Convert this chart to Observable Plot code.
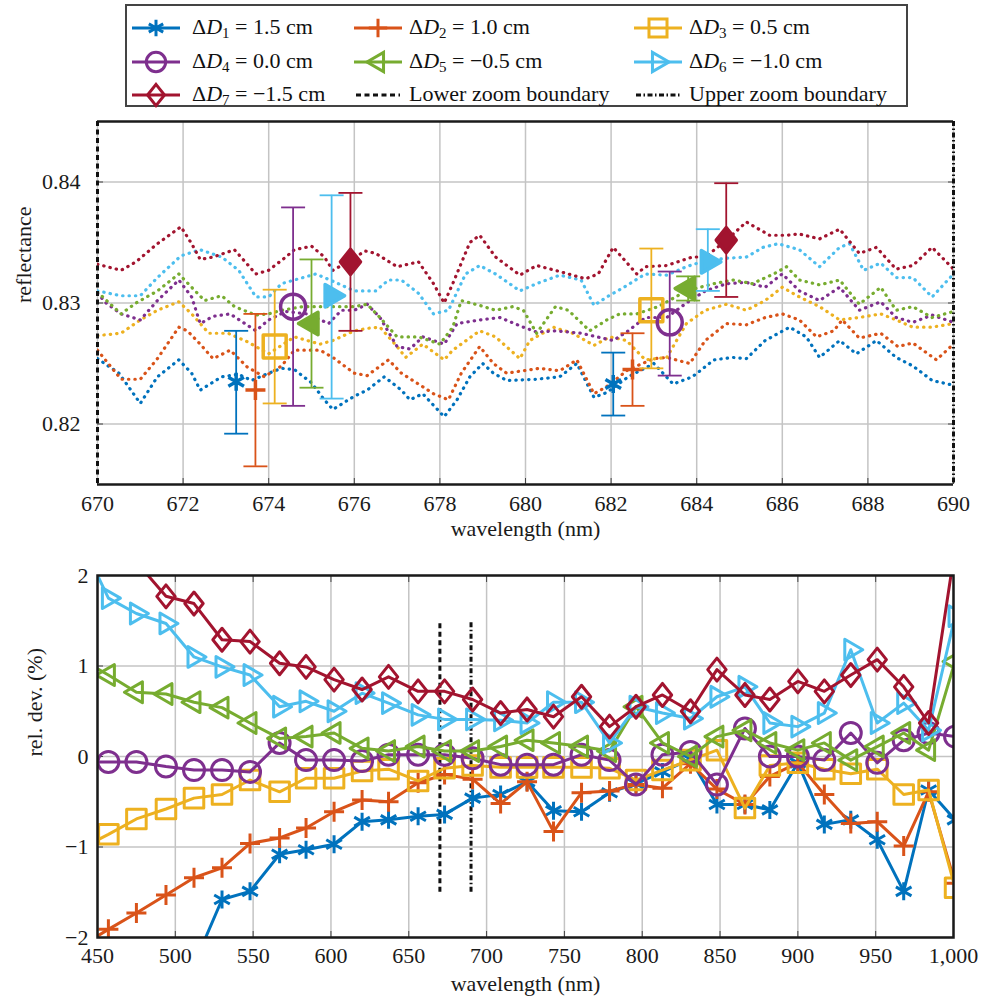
<!DOCTYPE html>
<html>
<head>
<meta charset="utf-8">
<script src="https://cdn.jsdelivr.net/npm/d3@7"></script>
<script src="https://cdn.jsdelivr.net/npm/@observablehq/plot@0.6"></script>
<style>
  body { margin: 0; background: #fff; font-family: "Liberation Serif", "Tinos", "DejaVu Serif", serif; }
  #page { position: relative; width: 984px; height: 1005px; overflow: hidden; }
  #legend { position: absolute; left: 125px; top: 4px; width: 779px; height: 99px; border: 2px solid #444; box-sizing: content-box; }
  .swatch { position: absolute; }
  .entry { position: absolute; font-size: 22px; line-height: 26px; color: #111; white-space: nowrap; }
  .entry sub { font-size: 15px; vertical-align: -4px; line-height: 0; }
  .chart { position: absolute; left: 0; }
</style>
</head>
<body>
<div id="page">
  <div id="legend"></div>
  <div id="top" class="chart" style="top:110px"></div>
  <div id="bottom" class="chart" style="top:560px"></div>
</div>
<script>
// ---- series metadata -------------------------------------------------------
const seriesColors = ["#0072BD", "#D95319", "#EDB120", "#7E2F8E", "#77AC30", "#4DBEEE", "#A2142F"];
const deltaLabels = ["1.5", "1.0", "0.5", "0.0", "\u22120.5", "\u22121.0", "\u22121.5"];
const boundaryLabels = ["Lower zoom boundary", "Upper zoom boundary"];
const zoomBounds = [670, 690];      // zoom window (nm)
const zoomRuleSpan = [-1.5, 1.5];    // extent of the zoom markers in the deviation plot

// ---- zoomed reflectance spectra: [wavelength (nm), reflectance] -------------
const reflD1 = [[670,0.8254],[670.5,0.8242],[671,0.8217],[671.4,0.8239],[671.9,0.8253],[672.2,0.8242],[672.4,0.8228],[672.9,0.8239],[673.3,0.8241],[673.6,0.8236],[674,0.8242],[674.3,0.8246],[674.6,0.8245],[675,0.8234],[675.3,0.822],[675.5,0.8212],[676,0.8223],[676.3,0.8228],[676.7,0.8239],[677.1,0.8228],[677.3,0.822],[677.6,0.8225],[678.1,0.8206],[678.4,0.822],[678.7,0.8239],[679,0.825],[679.25,0.8242],[679.56,0.8236],[680.26,0.8237],[680.8,0.8239],[681.2,0.825],[681.6,0.8222],[681.9,0.8226],[682.4,0.8239],[683,0.825],[683.45,0.8233],[683.9,0.8239],[684.4,0.8253],[684.85,0.8255],[685.16,0.8254],[685.6,0.8269],[686.17,0.828],[686.56,0.8272],[686.87,0.8255],[687.34,0.8269],[687.73,0.8258],[688.2,0.8269],[688.66,0.8255],[689.05,0.8248],[689.5,0.8236],[690,0.8232]];
const reflD2 = [[670,0.8261],[670.55,0.8237],[671,0.8237],[671.4,0.8254],[671.9,0.828],[672.1,0.8277],[672.4,0.8266],[672.7,0.8254],[673.1,0.8261],[673.5,0.8247],[673.9,0.8239],[674.3,0.8248],[674.6,0.8261],[675.2,0.8261],[675.5,0.8255],[676,0.8242],[676.3,0.824],[676.8,0.8253],[677.1,0.8242],[677.5,0.8233],[677.85,0.8225],[678.2,0.822],[678.5,0.8242],[678.93,0.8264],[679.25,0.825],[679.56,0.8242],[680.33,0.8246],[680.8,0.8244],[681.2,0.8253],[681.6,0.8225],[681.9,0.8231],[682.4,0.8245],[683,0.8254],[683.3,0.8255],[683.84,0.825],[684.2,0.8269],[684.7,0.8283],[685.16,0.8282],[685.6,0.8288],[686,0.8291],[686.4,0.8286],[686.8,0.8272],[687.2,0.8277],[687.4,0.8286],[687.8,0.8271],[688.3,0.8275],[688.7,0.8264],[689.05,0.8267],[689.6,0.8253],[690,0.8266]];
const reflD3 = [[670,0.8273],[670.55,0.8275],[671,0.8286],[671.4,0.8294],[671.9,0.8301],[672.2,0.8291],[672.6,0.8275],[673.05,0.8275],[673.5,0.8268],[674,0.8258],[674.6,0.8272],[675.2,0.8266],[675.5,0.8269],[676,0.8277],[676.3,0.8279],[676.6,0.828],[677,0.8264],[677.2,0.8255],[677.6,0.8266],[678.1,0.8253],[678.3,0.8261],[678.93,0.8277],[679.3,0.8272],[679.87,0.8254],[680.1,0.8269],[680.65,0.828],[681.1,0.8275],[681.6,0.8265],[681.97,0.8272],[682.36,0.8269],[682.8,0.8253],[683.3,0.8255],[683.76,0.8283],[684.2,0.8294],[684.7,0.8299],[685.16,0.8294],[685.6,0.8302],[686,0.8313],[686.4,0.8305],[686.87,0.8297],[687.34,0.8286],[687.8,0.8288],[688.3,0.8291],[688.66,0.8286],[689.05,0.828],[689.5,0.828],[690,0.8283]];
const reflD4 = [[670,0.8308],[670.2,0.83],[670.55,0.8291],[671,0.8286],[671.4,0.8302],[671.9,0.8319],[672.2,0.8305],[672.4,0.8283],[672.7,0.8289],[673.1,0.8291],[673.7,0.8277],[674,0.8286],[674.4,0.8293],[674.9,0.8291],[675.4,0.8283],[675.7,0.8294],[676,0.8294],[676.3,0.8299],[676.6,0.8288],[677,0.8264],[677.3,0.8262],[677.6,0.8272],[678.1,0.8266],[678.4,0.8283],[678.93,0.8286],[679.4,0.8288],[679.95,0.828],[680.26,0.8276],[680.7,0.8277],[681.3,0.8275],[682.05,0.8269],[682.4,0.8277],[682.8,0.8288],[683.3,0.8288],[683.76,0.83],[684.2,0.831],[684.7,0.8316],[685.16,0.8317],[685.6,0.8313],[686,0.8324],[686.4,0.831],[686.87,0.8302],[687.34,0.8313],[687.8,0.8294],[688.3,0.8301],[688.66,0.8288],[689.05,0.8284],[689.5,0.829],[690,0.8284]];
const reflD5 = [[670,0.8309],[670.55,0.8291],[670.9,0.83],[671.4,0.831],[671.9,0.8324],[672.2,0.8313],[672.5,0.8302],[672.9,0.8306],[673.2,0.8297],[673.7,0.829],[674,0.8291],[674.3,0.8294],[674.8,0.8297],[675.5,0.8297],[676,0.8297],[676.3,0.8299],[676.6,0.8288],[677,0.8272],[677.5,0.8272],[678,0.8266],[678.3,0.828],[678.5,0.8302],[678.93,0.8298],[679.3,0.8294],[679.7,0.8297],[679.95,0.8294],[680.26,0.8275],[680.7,0.8297],[681,0.8294],[681.5,0.8277],[681.9,0.8286],[682.2,0.8291],[682.6,0.8291],[683.1,0.8297],[683.76,0.831],[684.4,0.8316],[684.85,0.8319],[685.3,0.8316],[685.8,0.8324],[686.1,0.833],[686.4,0.8319],[686.87,0.8315],[687.34,0.8319],[687.8,0.8299],[688.3,0.8313],[688.66,0.8294],[689.05,0.8297],[689.5,0.8288],[690,0.8293]];
const reflD6 = [[670,0.831],[670.55,0.8306],[671,0.8306],[671.4,0.8321],[671.95,0.8339],[672.4,0.8344],[672.9,0.8338],[673.3,0.8327],[673.7,0.8305],[674,0.8305],[674.3,0.8316],[674.8,0.8321],[675.1,0.8324],[675.5,0.8318],[676,0.831],[676.5,0.831],[676.8,0.8319],[677.1,0.8319],[677.5,0.8308],[677.85,0.8291],[678.2,0.8294],[678.6,0.8324],[678.93,0.8331],[679.3,0.8324],[679.87,0.831],[680.26,0.8316],[680.8,0.8323],[681.3,0.8319],[681.6,0.8298],[681.9,0.8305],[682.3,0.8313],[682.8,0.8324],[683.3,0.8323],[683.76,0.833],[684.2,0.8335],[684.7,0.8337],[685.16,0.8338],[685.55,0.8346],[685.9,0.8349],[686.4,0.8344],[686.87,0.833],[687.34,0.8346],[687.57,0.8349],[687.9,0.8327],[688.3,0.8333],[688.66,0.8321],[689.05,0.8321],[689.5,0.8305],[690,0.8324]];
const reflD7 = [[670,0.8332],[670.55,0.8327],[670.9,0.8334],[671.4,0.8349],[671.95,0.8363],[672.2,0.8349],[672.4,0.8336],[672.7,0.8338],[673.2,0.8344],[673.5,0.8332],[673.7,0.8324],[674,0.8327],[674.4,0.8338],[674.6,0.8344],[675,0.8347],[675.3,0.8338],[675.5,0.8327],[675.9,0.8335],[676.25,0.8343],[676.5,0.8341],[677,0.833],[677.5,0.8334],[677.85,0.8316],[678.1,0.83],[678.3,0.8316],[678.7,0.835],[678.93,0.8356],[679.3,0.8338],[679.87,0.8323],[680.26,0.8331],[680.8,0.8326],[681.4,0.832],[681.7,0.8324],[682.05,0.8346],[682.6,0.8324],[682.8,0.833],[683.3,0.8331],[683.9,0.8338],[684.2,0.8338],[684.7,0.8352],[685.16,0.8367],[685.7,0.8356],[686.1,0.8356],[686.4,0.8357],[686.87,0.8353],[687.34,0.8361],[687.8,0.8341],[688.2,0.8346],[688.66,0.8328],[689.05,0.8331],[689.5,0.8346],[690,0.8328]];
const reflSeries = [reflD1, reflD2, reflD3, reflD4, reflD5, reflD6, reflD7];

// ---- mean reflectance with spread at two wavelengths per offset -----------
const zoomWl   = [[673.24, 682.05], [673.69, 682.5], [674.14, 682.94], [674.57, 683.37], [675.0, 683.8], [675.47, 684.26], [675.91, 684.69]];
const zoomMean = [[0.8235, 0.8233], [0.8228, 0.8245], [0.8264, 0.8294], [0.8297, 0.8284], [0.8283, 0.8312], [0.8306, 0.8334], [0.8334, 0.8352]];
const zoomLow  = [[0.8192, 0.8207], [0.8165, 0.8215], [0.8217, 0.8246], [0.8215, 0.8240], [0.8230, 0.8302], [0.8221, 0.8310], [0.8277, 0.8305]];
const zoomHigh = [[0.8277, 0.8259], [0.8291, 0.8275], [0.8311, 0.8345], [0.8379, 0.8326], [0.8336, 0.8322], [0.8389, 0.8361], [0.8391, 0.8399]];

// ---- relative deviation over the full range (%) ---------------------------
const devWl = [439, 457, 475, 494, 512, 530, 548, 567, 584, 602, 620, 637, 656, 673, 691, 709, 726, 743, 761, 779, 796, 813, 831, 848, 866, 882, 900, 917, 934, 951, 968, 984, 1001];
const devD1 = [null, null, null, null, -2.3, -1.58, -1.49, -1.08, -1.03, -0.97, -0.72, -0.7, -0.66, -0.64, -0.46, -0.42, -0.28, -0.6, -0.61, -0.4, -0.3, -0.17, -0.03, -0.53, -0.53, -0.59, -0.07, -0.75, -0.7, -0.92, -1.49, -0.37, -0.7];
const devD2 = [-2.1, -1.91, -1.73, -1.53, -1.34, -1.23, -0.96, -0.9, -0.79, -0.61, -0.48, -0.5, -0.29, -0.2, -0.25, -0.52, -0.28, -0.83, -0.4, -0.38, -0.31, -0.35, -0.08, -0.36, -0.53, -0.22, -0.07, -0.42, -0.74, -0.72, -0.99, -0.39, -1.4];
const devD3 = [-1.02, -0.86, -0.69, -0.58, -0.46, -0.42, -0.26, -0.39, -0.24, -0.24, -0.16, -0.14, -0.27, -0.13, -0.1, -0.12, -0.12, -0.12, -0.12, -0.13, -0.26, -0.15, -0.04, 0.07, -0.57, -0.1, -0.07, -0.14, -0.19, -0.14, -0.42, -0.37, -1.45];
const devD4 = [-0.06, -0.06, -0.06, -0.11, -0.15, -0.15, -0.17, 0.15, -0.04, -0.04, -0.05, 0.02, 0.02, 0.02, -0.02, -0.09, -0.09, -0.09, 0.02, -0.04, -0.31, 0.02, 0.05, -0.31, 0.31, 0.0, 0.0, -0.04, 0.26, -0.07, 0.18, 0.26, 0.22];
const devD5 = [1.08, 0.9, 0.71, 0.69, 0.6, 0.54, 0.37, 0.2, 0.22, 0.26, 0.09, 0.06, 0.11, 0.06, 0.06, 0.11, 0.18, 0.15, 0.11, 0.06, 0.55, 0.15, 0.0, 0.22, 0.29, 0.15, 0.07, 0.15, -0.04, 0.11, 0.26, 0.07, 1.05];
const devD6 = [2.4, 1.75, 1.58, 1.47, 1.1, 0.99, 0.9, 0.55, 0.61, 0.5, 0.7, 0.59, 0.46, 0.41, 0.41, 0.4, 0.37, 0.6, 0.6, 0.15, 0.55, 0.48, 0.42, 0.66, 0.77, 0.37, 0.33, 0.48, 1.18, 0.37, 0.59, 0.29, 1.55];
const devD7 = [null, null, 2.15, 1.77, 1.69, 1.29, 1.27, 1.03, 0.99, 0.85, 0.74, 0.88, 0.72, 0.72, 0.63, 0.48, 0.52, 0.44, 0.66, 0.33, 0.55, 0.68, 0.5, 0.96, 0.68, 0.63, 0.83, 0.72, 0.9, 1.07, 0.77, 0.37, 2.3];
const devSeries = [devD1, devD2, devD3, devD4, devD5, devD6, devD7];

// ---- axes ------------------------------------------------------------------
const topXDomain = [670, 690];
const topYDomain = [0.815, 0.845];
const topXTicks = [670, 672, 674, 676, 678, 680, 682, 684, 686, 688, 690];
const topYTicks = [0.82, 0.83, 0.84];
const botXDomain = [450, 1000];
const botYDomain = [-2, 2];
const botXTicks = [450, 500, 550, 600, 650, 700, 750, 800, 850, 900, 950, 1000];
const botYTicks = [-2, -1, 0, 1, 2];

// ---- marker shapes (radius derived from the symbol area) ------------------
function makeSymbol(drawFn) {
  return { draw(ctx, size) { drawFn(ctx, Math.sqrt(size / Math.PI)); } };
}
const shapes = {
  asterisk: makeSymbol((c, r) => { const t = r / 2, u = t * Math.sqrt(3);
    c.moveTo(0, -r); c.lineTo(0, r); c.moveTo(-u, -t); c.lineTo(u, t); c.moveTo(-u, t); c.lineTo(u, -t); }),
  plus: makeSymbol((c, r) => { c.moveTo(-r, 0); c.lineTo(r, 0); c.moveTo(0, -r); c.lineTo(0, r); }),
  square: makeSymbol((c, r) => { const h = r * 0.85;
    c.moveTo(-h, -h); c.lineTo(h, -h); c.lineTo(h, h); c.lineTo(-h, h); c.closePath(); }),
  circle: makeSymbol((c, r) => { c.moveTo(r, 0); c.arc(0, 0, r, 0, 2 * Math.PI); }),
  triLeft: makeSymbol((c, r) => { c.moveTo(-r, 0); c.lineTo(r / 2, -r * 0.866); c.lineTo(r / 2, r * 0.866); c.closePath(); }),
  triRight: makeSymbol((c, r) => { c.moveTo(r, 0); c.lineTo(-r / 2, -r * 0.866); c.lineTo(-r / 2, r * 0.866); c.closePath(); }),
  diamond: makeSymbol((c, r) => { c.moveTo(0, -r); c.lineTo(r * 0.8, 0); c.lineTo(0, r); c.lineTo(-r * 0.8, 0); c.closePath(); }),
  cap: makeSymbol((c, r) => { c.moveTo(-r, 0); c.lineTo(r, 0); })
};
const seriesShapes = [shapes.asterisk, shapes.plus, shapes.square, shapes.circle, shapes.triLeft, shapes.triRight, shapes.diamond];
const solidShape = [false, false, false, false, true, true, true];
const topMarkerR = [9, 10, 13.5, 12.5, 13, 13, 12.5];
const botMarkerR = [9, 10, 11.5, 10.5, 12, 12, 11.5];

const dashLower = "5,3.5";
const dashUpper = "5,2.5,1.5,2.5";
const gridStyle = { stroke: "#c4c4c4", strokeOpacity: 1, strokeWidth: 1.5 };
const serifFamily = '"Liberation Serif", "Tinos", "DejaVu Serif", serif';
const fontStyle = { fontFamily: serifFamily, fontSize: "22px", color: "#1a1a1a", background: "transparent", overflow: "visible" };

// ---- legend ----------------------------------------------------------------
const legend = d3.select("#legend");
const legendRowY = [22, 56, 89];
const swatchLeft = [3, 225, 505];
const textLeft = [65, 282, 562];
for (let i = 0; i < 9; i++) {
  const row = Math.floor(i / 3), col = i % 3;
  const svg = legend.append("svg").attr("class", "swatch")
    .attr("width", 52).attr("height", 30)
    .style("left", swatchLeft[col] + "px").style("top", (legendRowY[row] - 15) + "px");
  if (i < 7) {
    svg.append("line").attr("x1", 2).attr("x2", 50).attr("y1", 15).attr("y2", 15)
      .attr("stroke", seriesColors[i]).attr("stroke-width", 3);
    svg.append("path").attr("transform", "translate(26,15)")
      .attr("d", d3.symbol(seriesShapes[i], Math.PI * botMarkerR[i] * botMarkerR[i] * 0.85)())
      .attr("fill", "none").attr("stroke", seriesColors[i]).attr("stroke-width", 3);
  } else {
    svg.append("line").attr("x1", 4).attr("x2", 48).attr("y1", 15).attr("y2", 15)
      .attr("stroke", "#111").attr("stroke-width", 3)
      .attr("stroke-dasharray", i === 7 ? dashLower : dashUpper);
  }
  const label = i < 7
    ? `\u0394<i>D</i><sub>${i + 1}</sub> = ${deltaLabels[i]} cm`
    : boundaryLabels[i - 7];
  legend.append("div").attr("class", "entry")
    .style("left", textLeft[col] + "px").style("top", (legendRowY[row] - 14) + "px")
    .html(label);
}

// ---- zoomed reflectance plot ----------------------------------------------
const topMarks = [
  Plot.gridX(topXTicks, gridStyle),
  Plot.gridY(topYTicks, gridStyle),
  Plot.axisX(topXTicks, { tickSize: 0, tickPadding: 11, label: null }),
  Plot.axisY(topYTicks, { tickSize: 0, tickPadding: 17, label: null, tickFormat: d3.format(".2f") }),
  Plot.axisX(topXTicks, { anchor: "bottom", tickSize: -6, tickFormat: () => "", label: null, stroke: "#444" }),
  Plot.axisY(topYTicks, { anchor: "left", tickSize: -6, tickFormat: () => "", label: null, stroke: "#444" }),
  Plot.axisY(topYTicks, { anchor: "right", tickSize: -6, tickFormat: () => "", label: null, stroke: "#444" }),
  Plot.text(["wavelength (nm)"], { frameAnchor: "bottom", dy: 51, fontSize: 22 }),
  Plot.text(["reflectance"], { frameAnchor: "left", dx: -74, rotate: -90, fontSize: 22 })
];
reflSeries.forEach((s, i) => {
  topMarks.push(Plot.line(s, { x: d => d[0], y: d => d[1], stroke: seriesColors[i], strokeWidth: 3.2, strokeDasharray: "0.4,6", strokeLinecap: "round", clip: true }));
});
topMarks.push(Plot.ruleY(topYDomain, { stroke: "#1a1a1a", strokeWidth: 2.5 }));
topMarks.push(Plot.ruleX([zoomBounds[0]], { stroke: "#111", strokeWidth: 3, strokeDasharray: dashLower }));
topMarks.push(Plot.ruleX([zoomBounds[1]], { stroke: "#111", strokeWidth: 3, strokeDasharray: dashUpper }));
reflSeries.forEach((s, i) => {
  const pts = zoomWl[i].map((w, j) => ({ w, m: zoomMean[i][j], lo: zoomLow[i][j], hi: zoomHigh[i][j] }));
  const c = seriesColors[i];
  topMarks.push(Plot.ruleX(pts, { x: "w", y1: "lo", y2: "hi", stroke: c, strokeWidth: 1.8 }));
  topMarks.push(Plot.dot(pts, { x: "w", y: "lo", symbol: shapes.cap, r: 12, stroke: c, strokeWidth: 1.8, fill: "none" }));
  topMarks.push(Plot.dot(pts, { x: "w", y: "hi", symbol: shapes.cap, r: 12, stroke: c, strokeWidth: 1.8, fill: "none" }));
  topMarks.push(Plot.dot(pts, { x: "w", y: "m", symbol: seriesShapes[i], r: topMarkerR[i], stroke: c, strokeWidth: 3.5, fill: solidShape[i] ? c : "none", strokeLinejoin: "round" }));
});

const topChart = Plot.plot({
  width: 984, height: 440,
  marginLeft: 97, marginRight: 31, marginTop: 11, marginBottom: 66,
  x: { domain: topXDomain },
  y: { domain: topYDomain },
  style: fontStyle,
  marks: topMarks
});
document.getElementById("top").appendChild(topChart);

// ---- relative deviation plot ----------------------------------------------
const botMarks = [
  Plot.gridX(botXTicks, gridStyle),
  Plot.gridY(botYTicks, gridStyle),
  Plot.axisX(botXTicks, { tickSize: 0, tickPadding: 10, label: null }),
  Plot.axisY(botYTicks, { tickSize: 0, tickPadding: 9, label: null, tickFormat: d3.format("d") }),
  Plot.axisX(botXTicks, { anchor: "bottom", tickSize: -6, tickFormat: () => "", label: null, stroke: "#444" }),
  Plot.axisX(botXTicks, { anchor: "top", tickSize: -6, tickFormat: () => "", label: null, stroke: "#444" }),
  Plot.axisY(botYTicks, { anchor: "left", tickSize: -6, tickFormat: () => "", label: null, stroke: "#444" }),
  Plot.text(["wavelength (nm)"], { frameAnchor: "bottom", dy: 53, fontSize: 22 }),
  Plot.text(["rel. dev. (%)"], { frameAnchor: "left", dx: -63, rotate: -90, fontSize: 22 }),
  Plot.ruleX([zoomBounds[0]], { y1: zoomRuleSpan[0], y2: zoomRuleSpan[1], stroke: "#111", strokeWidth: 3, strokeDasharray: dashLower }),
  Plot.ruleX([zoomBounds[1]], { y1: zoomRuleSpan[0], y2: zoomRuleSpan[1], stroke: "#111", strokeWidth: 3, strokeDasharray: dashUpper })
];
devSeries.forEach((vals, i) => {
  const pts = devWl.map((w, j) => ({ w, v: vals[j] })).filter(d => d.v != null);
  const c = seriesColors[i];
  botMarks.push(Plot.line(pts, { x: "w", y: "v", stroke: c, strokeWidth: 3, strokeLinejoin: "round", clip: true }));
  botMarks.push(Plot.dot(pts, { x: "w", y: "v", symbol: seriesShapes[i], r: botMarkerR[i], stroke: c, strokeWidth: 3, fill: "none", strokeLinejoin: "round", clip: true }));
});
botMarks.push(Plot.frame({ stroke: "#1a1a1a", strokeWidth: 2.5 }));

const botChart = Plot.plot({
  width: 984, height: 445,
  marginLeft: 97, marginRight: 31, marginTop: 15, marginBottom: 68,
  x: { domain: botXDomain },
  y: { domain: botYDomain },
  style: fontStyle,
  marks: botMarks
});
document.getElementById("bottom").appendChild(botChart);
</script>
</body>
</html>
